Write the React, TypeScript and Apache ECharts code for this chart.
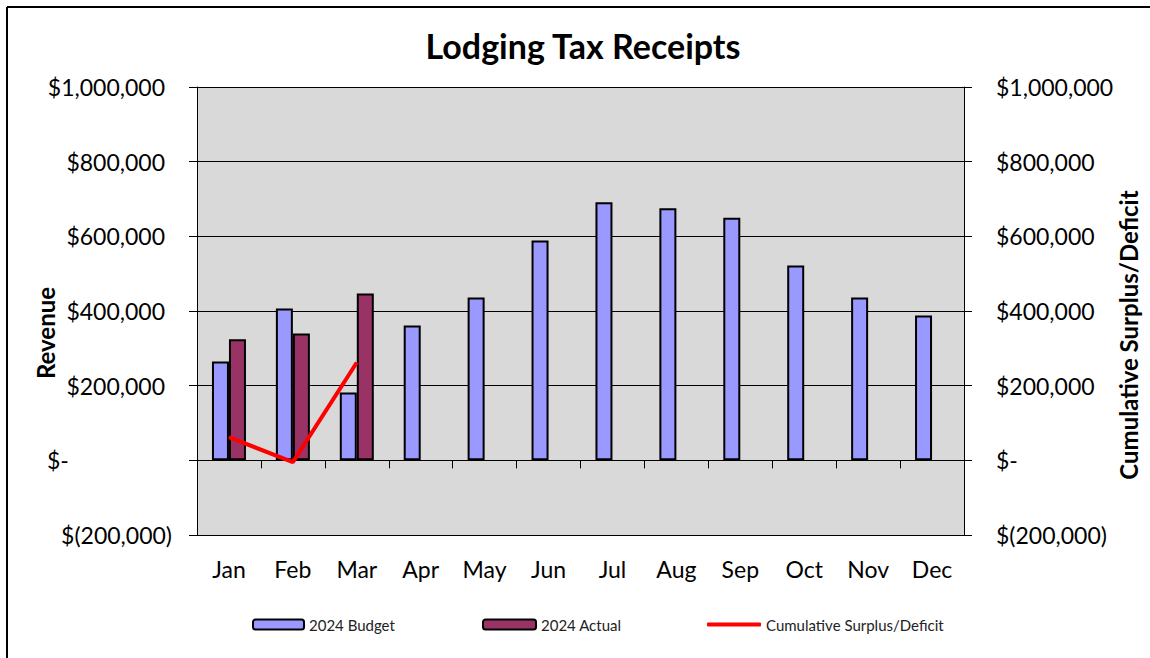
import React, { useEffect, useRef } from "react";
import * as echarts from "echarts";

const months = ["Jan", "Feb", "Mar", "Apr", "May", "Jun", "Jul", "Aug", "Sep", "Oct", "Nov", "Dec"];
const budget2024 = [265000, 407000, 182000, 361000, 436000, 589000, 691000, 675000, 650000, 522000, 436000, 388000];
const actual2024 = [324000, 340000, 447000];
const cumulative = [62000, -5000, 262000];
const axisMin = -200000;
const axisMax = 1000000;
const axisStep = 200000;

const FONT = "Lato";
const TICK_FS = 23;

function fmt(v: number): string {
  if (v === 0) return "$-";
  if (v < 0) return "$(" + Math.abs(v).toLocaleString("en-US") + ")";
  return "$" + v.toLocaleString("en-US");
}

export default function App() {
  const ref = useRef<HTMLDivElement>(null);
  useEffect(() => {
    if (!ref.current) return;
    const chart = echarts.init(ref.current, undefined, { renderer: "svg" });
    const legendText = { fontFamily: FONT, fontSize: 15, color: "#222" };
    const option: any = {
      animation: false,
      backgroundColor: "#ffffff",
      textStyle: { fontFamily: FONT },
      title: {
        text: "Lodging Tax Receipts",
        left: 578,
        top: 23,
        textAlign: "center",
        textStyle: { fontFamily: FONT, fontSize: 34, fontWeight: "bold", color: "#000" },
      },
      graphic: [
        { type: "line", shape: { x1: 7, y1: 7, x2: 1150, y2: 7 }, style: { stroke: "#000", lineWidth: 2 } },
        { type: "line", shape: { x1: 7, y1: 7, x2: 7, y2: 658 }, style: { stroke: "#000", lineWidth: 2 } },
      ],
      grid: {
        left: 197,
        right: 186,
        top: 87,
        bottom: 123,
        show: true,
        backgroundColor: "#d9d9d9",
        borderWidth: 0,
        containLabel: false,
        outerBoundsMode: "none",
      },
      legend: [
        {
          data: ["2024 Budget"],
          left: 252,
          top: 617,
          padding: 0,
          itemWidth: 51,
          itemHeight: 10,
          textStyle: legendText,
        },
        {
          data: ["2024 Actual"],
          left: 482,
          top: 617,
          padding: 0,
          itemWidth: 53,
          itemHeight: 10,
          textStyle: legendText,
        },
        {
          data: [{ name: "Cumulative Surplus/Deficit", icon: "roundRect" }],
          left: 707,
          top: 617,
          padding: 0,
          itemWidth: 54,
          itemHeight: 4,
          textStyle: legendText,
        },
      ],
      xAxis: [
        {
          type: "category",
          data: months,
          position: "bottom",
          axisLine: { show: true, onZero: true, lineStyle: { color: "#000", width: 1 } },
          axisTick: { show: true, inside: false, length: 8, lineStyle: { color: "#000" } },
          axisLabel: { show: false },
          splitLine: { show: false },
        },
        {
          type: "category",
          data: months,
          position: "bottom",
          axisLine: { show: false, onZero: false },
          axisTick: { show: false },
          axisLabel: { show: true, margin: 22, fontFamily: FONT, fontSize: TICK_FS, color: "#000" },
          splitLine: { show: false },
        },
      ],
      yAxis: [
        {
          type: "value",
          position: "left",
          min: axisMin,
          max: axisMax,
          interval: axisStep,
          name: "Revenue",
          nameLocation: "middle",
          nameRotate: 90,
          nameGap: 140,
          nameMoveOverlap: false,
          nameTextStyle: {
            fontFamily: FONT,
            fontSize: 24,
            fontWeight: "bold",
            color: "#000",
            padding: [0, 44, 0, 0],
          },
          axisLine: { show: true, lineStyle: { color: "#000", width: 1 } },
          axisTick: { show: true, length: 8, lineStyle: { color: "#000" } },
          splitLine: { show: true, lineStyle: { color: "#000", width: 1 } },
          axisLabel: {
            margin: 25,
            fontFamily: FONT,
            fontSize: TICK_FS,
            color: "#000",
            formatter: (v: number) => {
              if (v === 0) return "{z|$-}";
              if (v > 0) return "{p|" + fmt(v) + "}";
              return fmt(v);
            },
            rich: {
              z: { fontFamily: FONT, fontSize: TICK_FS, color: "#000", width: 125, align: "left" },
              p: { fontFamily: FONT, fontSize: TICK_FS, color: "#000", padding: [0, 7, 0, 0] },
            },
          },
        },
        {
          type: "value",
          position: "right",
          min: axisMin,
          max: axisMax,
          interval: axisStep,
          name: "Cumulative Surplus/Deficit",
          nameLocation: "middle",
          nameRotate: 90,
          nameGap: 152,
          nameMoveOverlap: false,
          nameTextStyle: {
            fontFamily: FONT,
            fontSize: 24,
            fontWeight: "bold",
            color: "#000",
            padding: [0, 48, 0, 0],
          },
          axisLine: { show: true, lineStyle: { color: "#000", width: 1 } },
          axisTick: { show: true, length: 8, lineStyle: { color: "#000" } },
          splitLine: { show: false },
          axisLabel: {
            margin: 32,
            fontFamily: FONT,
            fontSize: TICK_FS,
            color: "#000",
            formatter: (v: number) => fmt(v),
          },
        },
      ],
      series: [
        {
          name: "2024 Budget",
          type: "bar",
          xAxisIndex: 0,
          yAxisIndex: 0,
          data: budget2024,
          barWidth: 17,
          barGap: "0%",
          itemStyle: { color: "#9999ff", borderColor: "#000", borderWidth: 2 },
        },
        {
          name: "2024 Actual",
          type: "bar",
          xAxisIndex: 0,
          yAxisIndex: 0,
          data: actual2024,
          barWidth: 17,
          barGap: "0%",
          itemStyle: { color: "#993366", borderColor: "#000", borderWidth: 2 },
        },
        {
          name: "Cumulative Surplus/Deficit",
          type: "line",
          xAxisIndex: 0,
          yAxisIndex: 1,
          data: cumulative,
          symbol: "none",
          lineStyle: { color: "#ff0000", width: 4 },
          itemStyle: { color: "#ff0000" },
          z: 5,
        },
      ],
    };
    chart.setOption(option);
    return () => chart.dispose();
  }, []);
  return (
    <div
      ref={ref}
      style={{ position: "absolute", left: 0, top: 0, width: 1150, height: 658 }}
    />
  );
}
